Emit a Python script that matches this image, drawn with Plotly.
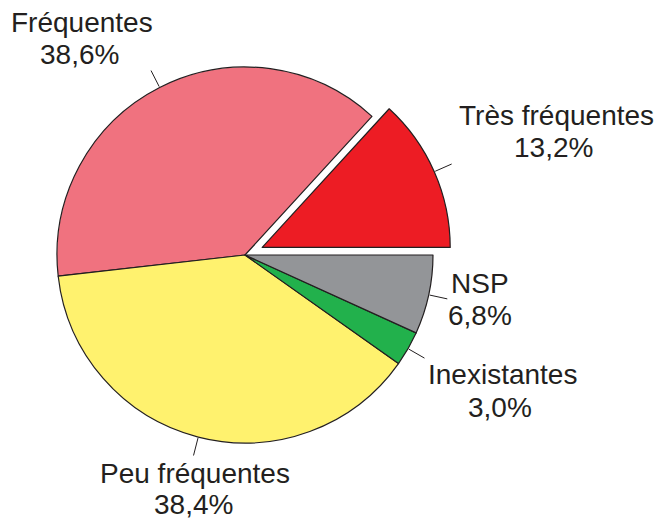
import math
import plotly.graph_objects as go

# ---- data ----
categories = ["Très fréquentes", "Fréquentes", "Peu fréquentes", "Inexistantes", "NSP"]
values = [13.2, 38.6, 38.4, 3.0, 6.8]
percent_labels = [f"{v:.1f}".replace(".", ",") + "%" for v in values]

# ---- style / layout ----
colors = ["#ED1C24", "#F0727F", "#FFF26E", "#22B14C", "#939598"]
pulled = "Très fréquentes"
PULL = 0.1
OFF = 8                      # page body margin of the browser
W, H = 663 - OFF, 519 - OFF  # figure size so it fits the window
CX, CY, R = 245 - OFF, 255 - OFF, 188
INK = "#231F20"
FONT = "Liberation Sans, Arial, sans-serif"
FSIZE = 28

# label line centres in window pixels: (name line), (percent line)
label_pos = {
    "Très fréquentes": ((556, 115), (553.5, 147)),
    "Fréquentes": ((81.5, 22.5), (79.5, 54.5)),
    "Peu fréquentes": ((195, 473), (193, 504)),
    "Inexistantes": ((502, 374.5), (500, 407)),
    "NSP": ((479.5, 283.5), (480, 315)),
}

half = R * (1 + PULL)
dom_x = [(CX - half) / W, (CX + half) / W]
dom_y = [1 - (CY + half) / H, 1 - (CY - half) / H]

pulls = [PULL if c == pulled else 0 for c in categories]
total = sum(values)
# first slice starts at 3 o'clock and runs counterclockwise
rotation = 90 - values[0] / total * 360

fig = go.Figure(
    go.Pie(
        labels=categories,
        values=values,
        sort=False,
        direction="counterclockwise",
        rotation=rotation,
        pull=pulls,
        marker=dict(colors=colors, line=dict(color=INK, width=1.2)),
        textinfo="none",
        hoverinfo="label+percent",
        domain=dict(x=dom_x, y=dom_y),
        showlegend=False,
    )
)

def px2paper(x, y):
    return x / W, 1 - y / H

annotations = []
shapes = []
cum = 0.0
for cat, v, pct, p in zip(categories, values, percent_labels, pulls):
    mid = math.radians((cum + v / 2) / total * 360)
    cum += v
    ox = CX + p * R * math.cos(mid)
    oy = CY - p * R * math.sin(mid)
    r0, r1 = R + 1, R + 19
    x0, y0 = px2paper(ox + r0 * math.cos(mid), oy - r0 * math.sin(mid))
    x1, y1 = px2paper(ox + r1 * math.cos(mid), oy - r1 * math.sin(mid))
    shapes.append(dict(type="line", xref="paper", yref="paper", x0=x0, y0=y0, x1=x1, y1=y1,
                       line=dict(color=INK, width=1)))
    (lx, ly), (px_, py_) = label_pos[cat]
    for txt, (tx, ty) in ((cat, (lx, ly)), (pct, (px_, py_))):
        ax, ay = px2paper(tx - OFF, ty - OFF)
        annotations.append(dict(text=txt, x=ax, y=ay, xref="paper", yref="paper",
                                xanchor="center", yanchor="middle", showarrow=False,
                                font=dict(family=FONT, size=FSIZE, color=INK)))

fig.update_layout(
    width=W, height=H,
    margin=dict(l=0, r=0, t=0, b=0),
    paper_bgcolor="white", plot_bgcolor="white",
    annotations=annotations, shapes=shapes,
)

fig.write_html("out.html")
